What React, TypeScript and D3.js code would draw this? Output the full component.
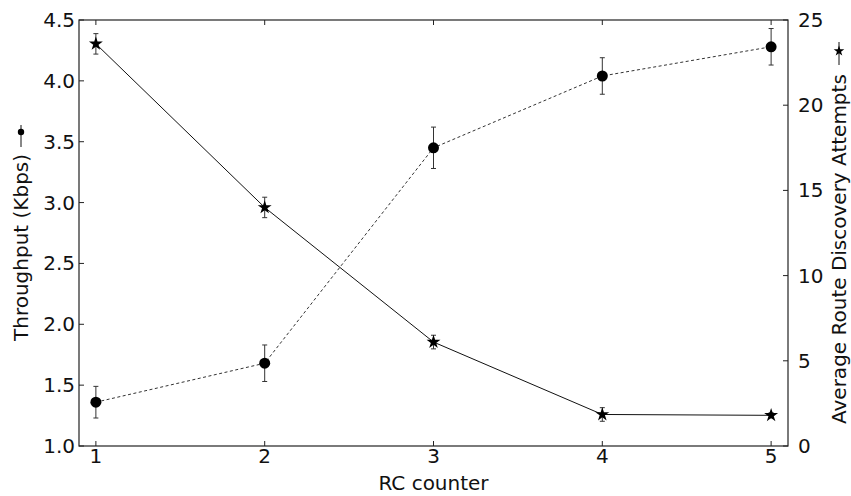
import React from 'react';
import * as d3 from 'd3';

const rcCounter = [1, 2, 3, 4, 5];
const throughput = [1.36, 1.68, 3.45, 4.04, 4.28];
const throughputErr = [0.13, 0.15, 0.17, 0.15, 0.15];
const attempts = [23.6, 14.0, 6.1, 1.85, 1.8];
const attemptsErr = [0.6, 0.6, 0.4, 0.4, 0.15];
const leftTicks = [1.0, 1.5, 2.0, 2.5, 3.0, 3.5, 4.0, 4.5];
const rightTicks = [0, 5, 10, 15, 20, 25];

const margin = { top: 20, right: 63, bottom: 50, left: 79 };
const W = 851;
const H = 496;
const FONT = 'DejaVu Sans, sans-serif';
const FS = 20;

const App = () => {
  const x = d3.scaleLinear().domain([0.9, 5.1]).range([margin.left, W - margin.right]);
  const yL = d3.scaleLinear().domain([1.0, 4.5]).range([H - margin.bottom, margin.top]);
  const yR = d3.scaleLinear().domain([0, 25]).range([H - margin.bottom, margin.top]);

  const tpLine = d3.line<number>().x((_, i) => x(rcCounter[i])).y(d => yL(d));
  const atLine = d3.line<number>().x((_, i) => x(rcCounter[i])).y(d => yR(d));
  const star = d3.symbol().type(d3.symbolStar).size(60)();

  const x0 = margin.left, x1 = W - margin.right;
  const y0 = margin.top, y1 = H - margin.bottom;
  const midY = (y0 + y1) / 2;
  const tick = 5;
  const cap = 2.5;

  return (
    <svg width={W} height={H} style={{ position: 'absolute', left: 0, top: 0 }} fontFamily={FONT}>
      <rect width={W} height={H} fill="#fff" />
      {/* throughput series */}
      <path d={tpLine(throughput) || ''} fill="none" stroke="#333" strokeWidth={1} strokeDasharray="3,2.5" />
      {throughput.map((v, i) => {
        const cx = x(rcCounter[i]);
        const top = yL(v + throughputErr[i]);
        const bot = yL(v - throughputErr[i]);
        return (
          <g key={'t' + i}>
            <line x1={cx} x2={cx} y1={top} y2={bot} stroke="#333" />
            <line x1={cx - cap} x2={cx + cap} y1={top} y2={top} stroke="#333" />
            <line x1={cx - cap} x2={cx + cap} y1={bot} y2={bot} stroke="#333" />
            <circle cx={cx} cy={yL(v)} r={5.5} fill="#000" />
          </g>
        );
      })}
      {/* attempts series */}
      <path d={atLine(attempts) || ''} fill="none" stroke="#111" strokeWidth={1} />
      {attempts.map((v, i) => {
        const cx = x(rcCounter[i]);
        const top = yR(v + attemptsErr[i]);
        const bot = yR(v - attemptsErr[i]);
        return (
          <g key={'a' + i}>
            <line x1={cx} x2={cx} y1={top} y2={bot} stroke="#333" />
            <line x1={cx - cap} x2={cx + cap} y1={top} y2={top} stroke="#333" />
            <line x1={cx - cap} x2={cx + cap} y1={bot} y2={bot} stroke="#333" />
            <path d={star || ''} transform={`translate(${cx},${yR(v)})`} fill="#000" />
          </g>
        );
      })}
      {/* frame */}
      <rect x={x0} y={y0} width={x1 - x0} height={y1 - y0} fill="none" stroke="#222" strokeWidth={1.2} />
      {/* x ticks */}
      {rcCounter.map(t => (
        <g key={'x' + t}>
          <line x1={x(t)} x2={x(t)} y1={y1} y2={y1 - tick} stroke="#222" />
          <line x1={x(t)} x2={x(t)} y1={y0} y2={y0 + tick} stroke="#222" />
          <text x={x(t)} y={y1 + 17} textAnchor="middle" fontSize={FS} fill="#111">{t}</text>
        </g>
      ))}
      {/* left ticks */}
      {leftTicks.map(t => (
        <g key={'l' + t}>
          <line x1={x0} x2={x0 + tick} y1={yL(t)} y2={yL(t)} stroke="#222" />
          <text x={x0 - 4} y={yL(t) + 7} textAnchor="end" fontSize={FS} fill="#111">{t.toFixed(1)}</text>
        </g>
      ))}
      {/* right ticks */}
      {rightTicks.map(t => (
        <g key={'r' + t}>
          <line x1={x1} x2={x1 - tick} y1={yR(t)} y2={yR(t)} stroke="#222" />
          <text x={x1 + 10} y={yR(t) + 7} textAnchor="start" fontSize={FS} fill="#111">{t}</text>
        </g>
      ))}
      {/* axis labels */}
      <text x={(x0 + x1) / 2} y={490} textAnchor="middle" fontSize={FS} fill="#111">RC counter</text>
      <g transform={`translate(28,${midY}) rotate(-90)`}>
        <text x={-108} y={0} textAnchor="start" fontSize={FS} fill="#111">Throughput (Kbps)</text>
        <line x1={86} x2={108} y1={-7} y2={-7} stroke="#111" />
        <circle cx={101} cy={-7} r={3.2} fill="#000" />
      </g>
      <g transform={`translate(846,${midY}) rotate(-90)`}>
        <text x={-191} y={0} textAnchor="start" fontSize={FS} fill="#111">Average Route Discovery Attempts</text>
        <line x1={168} x2={191} y1={-7} y2={-7} stroke="#111" />
        <path d={d3.symbol().type(d3.symbolStar).size(35)() || ''} transform="translate(182,-7) rotate(90)" fill="#000" />
      </g>
    </svg>
  );
};

export default App;
